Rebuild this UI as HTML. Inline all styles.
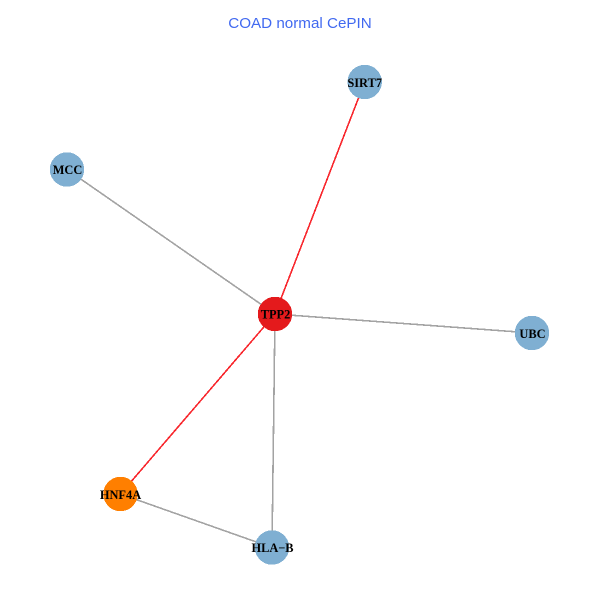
<!DOCTYPE html>
<html>
<head>
<meta charset="utf-8">
<style>
html,body{margin:0;padding:0;background:#fff;width:600px;height:600px;overflow:hidden}
svg{display:block}
.n{font-family:"Liberation Serif",serif;font-weight:bold;font-size:12.4px;fill:#000;text-anchor:middle}
.t{font-family:"Liberation Sans",sans-serif;font-size:15.2px;fill:#4169f0;text-anchor:middle}
</style>
</head>
<body>
<svg width="600" height="600" viewBox="0 0 600 600" xmlns="http://www.w3.org/2000/svg">
<rect width="600" height="600" fill="#fff"/>
<text class="t" x="300" y="28">COAD normal CePIN</text>
<g fill="none" stroke-width="1.6" shape-rendering="crispEdges">
<line x1="275" y1="314" x2="67" y2="169.5" stroke="#a3a3a3"/>
<line x1="275" y1="314" x2="532" y2="333" stroke="#a3a3a3"/>
<line x1="275" y1="314" x2="272" y2="547.5" stroke="#a3a3a3"/>
<line x1="120.5" y1="494" x2="272" y2="547.5" stroke="#a3a3a3"/>
<line x1="275" y1="314" x2="364.7" y2="82" stroke="#f8262c"/>
<line x1="275" y1="314" x2="120.5" y2="494" stroke="#f8262c"/>
</g>
<g shape-rendering="crispEdges">
<circle cx="364.7" cy="82" r="17.2" fill="#7fafd2"/>
<circle cx="67" cy="169.5" r="17.2" fill="#7fafd2"/>
<circle cx="532" cy="333" r="17.2" fill="#7fafd2"/>
<circle cx="272" cy="547.5" r="17.2" fill="#7fafd2"/>
<circle cx="275" cy="314" r="17.2" fill="#e41a1c"/>
<circle cx="120.5" cy="494" r="17.2" fill="#ff7f00"/>
</g>
<text class="n" x="364.7" y="87">SIRT7</text>
<text class="n" x="67.5" y="174">MCC</text>
<text class="n" x="532.5" y="338">UBC</text>
<text class="n" x="275.5" y="318.500">TPP2</text>
<text class="n" x="120.5" y="499">HNF4A</text>
<text class="n" x="272.5" y="552" textLength="42" lengthAdjust="spacing">HLA−B</text>
</svg>
</body>
</html>
